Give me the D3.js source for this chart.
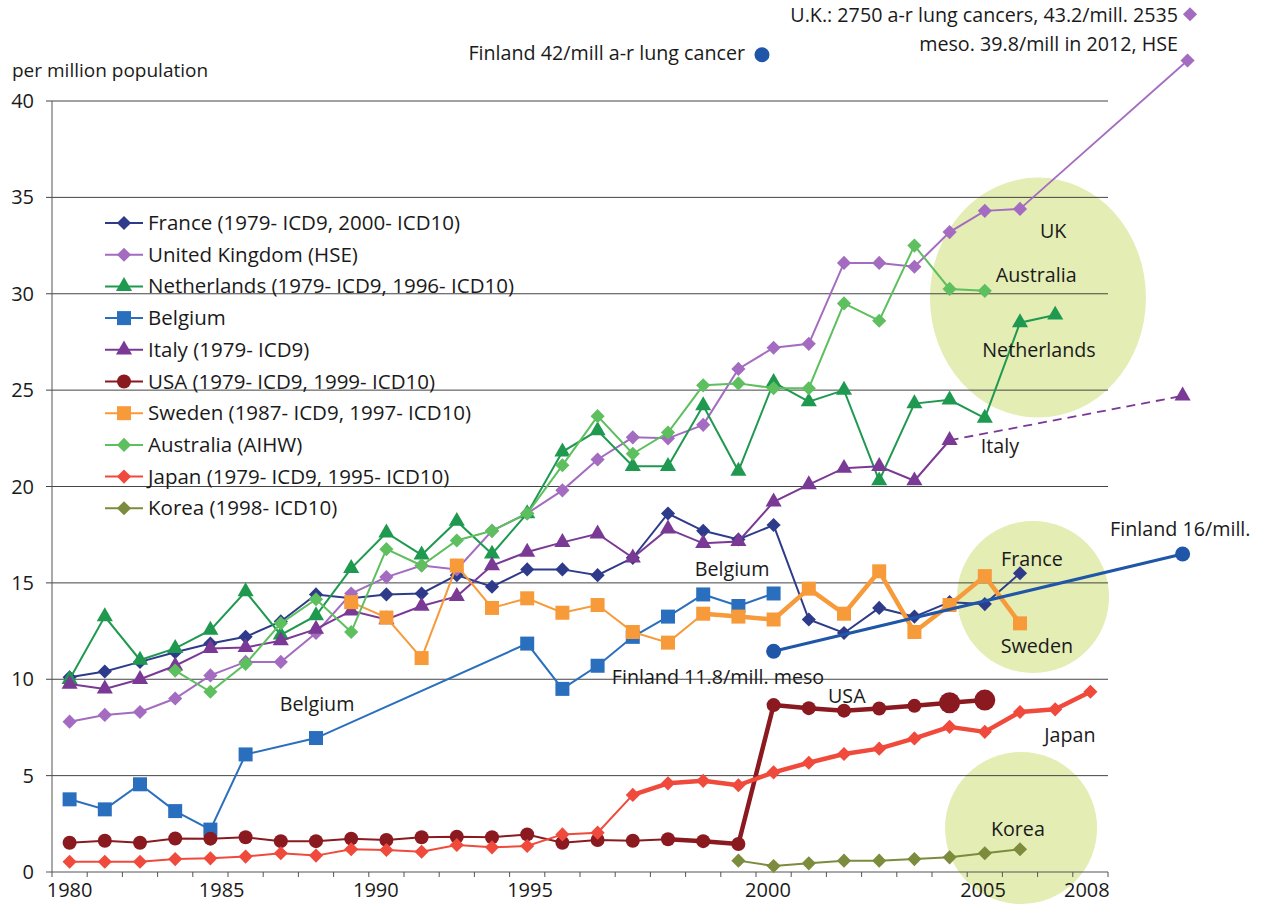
<!DOCTYPE html>
<html>
<head>
<meta charset="utf-8">
<script src="https://cdn.jsdelivr.net/npm/d3@7"></script>
<style>
  body { margin: 0; background: #fff; }
  svg text { font-family: "Open Sans", "Noto Sans", sans-serif; fill: #1a1a1a; }
</style>
</head>
<body>
<div id="chart"></div>
<script>
// categories: one slot per year, 1980..2009
const years = d3.range(1980, 2010);
const tickLabels = ["1980", "1985", "1990", "1995", "2000", "2005", "2008"];
const tickLabelAt = [0, 4.32, 8.7, 13.08, 19.84, 25.95, 28.9];   // where the labels sit on the category axis
const yTicks = [0, 5, 10, 15, 20, 25, 30, 35, 40];

// series values, starting 1980 (null = no value)
const france = [10.1, 10.4, 10.9, 11.4, 11.85, 12.2, 13.0, 14.4, 14.2, 14.4, 14.45, 15.4, 14.8, 15.7, 15.7, 15.4, 16.3, 18.6, 17.7, 17.25, 18.0, 13.1, 12.4, 13.7, 13.25, 14.0, 13.9, 15.5];
const uk = [7.8, 8.15, 8.3, 9.0, 10.2, 10.9, 10.9, 12.4, 14.45, 15.3, 15.9, 15.7, 17.7, 18.6, 19.8, 21.4, 22.55, 22.5, 23.2, 26.1, 27.2, 27.4, 31.6, 31.6, 31.4, 33.2, 34.3, 34.4];
const netherlands = [10.0, 13.25, 11.0, 11.6, 12.55, 14.55, 12.3, 13.3, 15.75, 17.6, 16.45, 18.2, 16.5, 18.6, 21.8, 22.9, 21.05, 21.05, 24.2, 20.8, 25.4, 24.4, 25.0, 20.3, 24.3, 24.5, 23.55, 28.5, 28.9];
const belgium = [3.77, 3.25, 4.55, 3.16, 2.2, 6.1, null, 6.95, null, null, null, null, null, 11.85, 9.5, 10.7, 12.2, 13.25, 14.4, 13.8, 14.45];
const italy = [9.75, 9.5, 10.0, 10.7, 11.6, 11.65, 12.0, 12.6, 13.55, 13.1, 13.8, 14.3, 15.9, 16.6, 17.1, 17.55, 16.3, 17.8, 17.05, 17.15, 19.2, 20.1, 20.95, 21.05, 20.3, 22.4];
const usa = [1.52, 1.62, 1.52, 1.74, 1.73, 1.8, 1.6, 1.6, 1.73, 1.66, 1.8, 1.83, 1.8, 1.95, 1.52, 1.66, 1.62, 1.7, 1.6, 1.45, 8.66, 8.5, 8.37, 8.48, 8.62, 8.78, 8.92];
const sweden = [null, null, null, null, null, null, null, null, 14.0, 13.2, 11.1, 15.9, 13.7, 14.2, 13.45, 13.85, 12.45, 11.9, 13.4, 13.25, 13.1, 14.7, 13.4, 15.6, 12.45, 13.85, 15.35, 12.9];
const australia = [null, null, null, 10.45, 9.35, 10.8, 12.9, 14.15, 12.45, 16.75, 15.9, 17.2, 17.7, 18.6, 21.1, 23.65, 21.7, 22.8, 25.25, 25.35, 25.1, 25.1, 29.5, 28.6, 32.5, 30.25, 30.15];
const japan = [0.53, 0.53, 0.53, 0.67, 0.71, 0.8, 0.97, 0.85, 1.18, 1.14, 1.05, 1.4, 1.28, 1.35, 1.95, 2.04, 4.0, 4.6, 4.73, 4.5, 5.17, 5.67, 6.12, 6.4, 6.93, 7.53, 7.27, 8.3, 8.44, 9.35];
const korea = [null, null, null, null, null, null, null, null, null, null, null, null, null, null, null, null, null, null, null, 0.59, 0.31, 0.45, 0.59, 0.59, 0.67, 0.76, 0.97, 1.18];

// extra points drawn past the axis (2012 figures) and Finland
const extSlot = 31.62;
const ukExt = 42.1, italyExt = 24.7;
const finland = [[20, 11.45], [extSlot, 16.5]];
const finlandLung = [19.67, 42.4];
const ukLung = [31.83, 44.5];

const series = [
  { name: "France (1979- ICD9,  2000- ICD10)", values: france, color: "#2e3b8a", shape: "diamond" },
  { name: "United Kingdom (HSE)", values: uk, color: "#a46cc0", shape: "diamond" },
  { name: "Netherlands (1979- ICD9, 1996- ICD10)", values: netherlands, color: "#1f9950", shape: "triangle" },
  { name: "Belgium", values: belgium, color: "#2a6fbe", shape: "square" },
  { name: "Italy (1979- ICD9)", values: italy, color: "#7b3996", shape: "triangle" },
  { name: "USA (1979- ICD9, 1999- ICD10)", values: usa, color: "#8a1a1f", shape: "circle", thickFrom: 17, bigFrom: 25 },
  { name: "Sweden (1987- ICD9, 1997- ICD10)", values: sweden, color: "#f79a3a", shape: "square", thickFrom: 18 },
  { name: "Australia (AIHW)", values: australia, color: "#5dbf5d", shape: "diamond" },
  { name: "Japan (1979- ICD9, 1995- ICD10)", values: japan, color: "#ef4a3c", shape: "diamond", thickFrom: 16 },
  { name: "Korea (1998- ICD10)", values: korea, color: "#7b8c3c", shape: "diamond" }
];

const width = 1263, height = 905;
const margin = { top: 101, right: 155, bottom: 33, left: 52 };

const x = d3.scaleLinear().domain([-0.5, years.length - 0.5]).range([margin.left, width - margin.right]);
const y = d3.scaleLinear().domain([0, 40]).range([height - margin.bottom, margin.top]);

const svg = d3.select("#chart").append("svg").attr("width", width).attr("height", height);

// highlight blobs behind everything
const blobs = [[27.51, 29.8, 108, 120], [27.37, 14.27, 76, 76], [27.03, 2.28, 76, 76]];
svg.selectAll(".blob").data(blobs).enter().append("ellipse")
  .attr("cx", d => x(d[0])).attr("cy", d => y(d[1]))
  .attr("rx", d => d[2]).attr("ry", d => d[3])
  .attr("fill", "#e3edb4");

// grid + y axis
svg.append("g").selectAll("line").data(yTicks.slice(1)).enter().append("line")
  .attr("x1", margin.left - 6).attr("x2", x(years.length - 0.5))
  .attr("y1", d => y(d)).attr("y2", d => y(d))
  .attr("stroke", "#444").attr("stroke-width", 1);
svg.append("line").attr("x1", margin.left).attr("x2", margin.left)
  .attr("y1", y(40)).attr("y2", y(0)).attr("stroke", "#555");
svg.append("g").selectAll("text").data(yTicks).enter().append("text")
  .attr("x", 34).attr("y", d => y(d) + 7)
  .attr("text-anchor", "end").style("font-size", "20px").text(d => d);

// x axis
svg.append("line").attr("x1", margin.left - 6).attr("x2", x(years.length - 0.5))
  .attr("y1", y(0)).attr("y2", y(0)).attr("stroke", "#555").attr("stroke-width", 1.2);
svg.append("g").selectAll("line").data(d3.range(years.length + 1)).enter().append("line")
  .attr("x1", d => x(d - 0.5)).attr("x2", d => x(d - 0.5))
  .attr("y1", y(0)).attr("y2", y(0) + 5).attr("stroke", "#555");
svg.append("g").selectAll("text").data(tickLabels).enter().append("text")
  .attr("x", (d, i) => x(tickLabelAt[i])).attr("y", y(0) + 25)
  .attr("text-anchor", "middle").style("font-size", "20px").text(d => d);

svg.append("text").attr("x", 12).attr("y", 77).style("font-size", "19px").text("per million population");

const symbolPath = (shape, s) => {
  if (shape === "triangle") return d3.symbol(d3.symbolTriangle, s * s * 0.5)();
  if (shape === "circle") return d3.symbol(d3.symbolCircle, Math.PI * s * s / 4)();
  return d3.symbol(d3.symbolSquare, s * s)();
};
const shapeSize = { diamond: 10, triangle: 15, square: 14, circle: 14 };

function drawMarker(g, shape, color, cx, cy, big) {
  const s = big ? 21 : shapeSize[shape];
  g.append("path").attr("d", symbolPath(shape, s)).attr("fill", color)
    .attr("transform", `translate(${cx},${cy})` + (shape === "diamond" ? " rotate(45)" : ""));
}

const line = d3.line().x(d => x(d[0])).y(d => y(d[1]));

// extension lines (behind the markers)
svg.append("path").attr("d", line([[27, uk[27]], [extSlot + 0.14, ukExt]]))
  .attr("fill", "none").attr("stroke", "#a46cc0").attr("stroke-width", 1.8);
svg.append("path").attr("d", line([[25, italy[25]], [extSlot, italyExt]]))
  .attr("fill", "none").attr("stroke", "#7b3996").attr("stroke-width", 1.8).attr("stroke-dasharray", "9,6");

series.forEach(s => {
  const pts = s.values.map((v, i) => [i, v]).filter(d => d[1] != null);
  const g = svg.append("g");
  g.append("path").attr("d", line(pts)).attr("fill", "none")
    .attr("stroke", s.color).attr("stroke-width", 2);
  if (s.thickFrom != null) {
    g.append("path").attr("d", line(pts.filter(d => d[0] >= s.thickFrom))).attr("fill", "none")
      .attr("stroke", s.color).attr("stroke-width", 4.5).attr("stroke-linejoin", "round");
  }
  pts.forEach(d => drawMarker(g, s.shape, s.color, x(d[0]), y(d[1]), s.bigFrom != null && d[0] >= s.bigFrom));
});

drawMarker(svg, "diamond", "#a46cc0", x(extSlot + 0.14), y(ukExt));
drawMarker(svg, "triangle", "#7b3996", x(extSlot), y(italyExt));

// Finland
svg.append("path").attr("d", line(finland)).attr("fill", "none").attr("stroke", "#1f56a8").attr("stroke-width", 3);
svg.selectAll(".fin").data(finland.concat([finlandLung])).enter().append("circle")
  .attr("cx", d => x(d[0])).attr("cy", d => y(d[1])).attr("r", 7.5).attr("fill", "#1f56a8");
drawMarker(svg, "diamond", "#a46cc0", x(ukLung[0]), y(ukLung[1]));

// legend
const legend = svg.append("g");
series.forEach((s, i) => {
  const ly = 223 + i * 31.7;
  legend.append("line").attr("x1", 105).attr("x2", 143).attr("y1", ly).attr("y2", ly)
    .attr("stroke", s.color).attr("stroke-width", 2);
  drawMarker(legend, s.shape, s.color, 124, ly, false);
  legend.append("text").attr("x", 148).attr("y", ly + 7).style("font-size", "20.5px").text(s.name);
});

// annotations
const notes = [
  ["UK", 27.94, 32.9, "middle"],
  ["Australia", 27.46, 30.6, "middle"],
  ["Netherlands", 27.54, 26.7, "middle"],
  ["Italy", 26.43, 21.75, "middle"],
  ["France", 27.34, 15.88, "middle"],
  ["Sweden", 27.48, 11.36, "middle"],
  ["Belgium", 18.82, 15.36, "middle"],
  ["Belgium", 7.03, 8.35, "middle"],
  ["Finland 11.8/mill. meso", 18.42, 9.75, "middle"],
  ["USA", 22.08, 8.77, "middle"],
  ["Japan", 28.42, 6.74, "middle"],
  ["Korea", 26.94, 1.87, "middle"],
  ["Finland 16/mill.", 29.56, 17.43, "start"],
  ["Finland 42/mill a-r lung cancer", 19.19, 42.13, "end"],
  ["U.K.: 2750 a-r lung cancers, 43.2/mill. 2535", 31.49, 44.1, "end"],
  ["meso. 39.8/mill in 2012, HSE", 31.49, 42.6, "end"]
];
svg.append("g").selectAll("text").data(notes).enter().append("text")
  .attr("x", d => x(d[1])).attr("y", d => y(d[2]))
  .attr("text-anchor", d => d[3]).style("font-size", "19.7px").text(d => d[0]);
</script>
</body>
</html>
